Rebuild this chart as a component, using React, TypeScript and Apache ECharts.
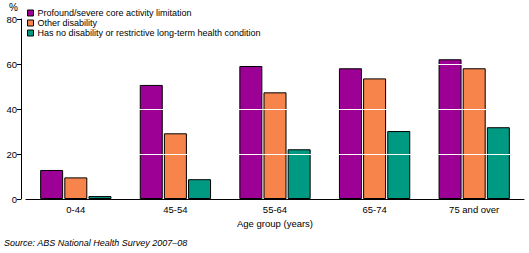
import React, { useEffect, useRef } from "react";
import * as echarts from "echarts";

const categories = ["0-44", "45-54", "55-64", "65-74", "75 and over"];
const seriesNames = [
  "Profound/severe core activity limitation",
  "Other disability",
  "Has no disability or restrictive long-term health condition",
];
const profound = [12.9, 50.7, 59.1, 58.1, 62.1];
const otherDisability = [9.6, 29.2, 47.4, 53.6, 58.1];
const noDisability = [1.3, 8.8, 22.1, 30.2, 31.9];
const colors = ["#9C0095", "#F7844A", "#009981"];
const whiteLines = [20, 40, 60];

const FONT = "Liberation Sans";

export default function App() {
  const ref = useRef<HTMLDivElement>(null);
  useEffect(() => {
    if (!ref.current) return;
    const chart = echarts.init(ref.current, undefined, { renderer: "svg" });
    const values = [profound, otherDisability, noDisability];
    const series: any[] = values.map((d, i) => ({
      name: seriesNames[i],
      type: "bar",
      data: d,
      barWidth: 23,
      barGap: "5%",
      itemStyle: { color: colors[i], borderColor: "#000", borderWidth: 1 },
    }));
    series.push({
      type: "line",
      data: [],
      z: 20,
      silent: true,
      markLine: {
        silent: true,
        symbol: "none",
        label: { show: false },
        lineStyle: { color: "#fff", width: 1, type: "solid" },
        data: whiteLines.map((v) => ({ yAxis: v })),
      },
    });
    chart.setOption({
      animation: false,
      textStyle: { fontFamily: FONT },
      grid: { left: 26, right: 5, top: 19, bottom: 54 },
      legend: {
        data: seriesNames,
        orient: "vertical",
        left: 27,
        top: 8,
        padding: 0,
        itemWidth: 6,
        itemHeight: 6,
        itemGap: 0,
        icon: "rect",
        itemStyle: { borderColor: "#000", borderWidth: 1 },
        textStyle: { fontFamily: FONT, fontSize: 9, lineHeight: 10, color: "#000", padding: [0, 0, 0, -1] },
      },
      graphic: [
        { type: "text", left: 9, top: 2, style: { text: "%", font: `10px ${FONT}`, fill: "#000" } },
        {
          type: "text",
          left: 4,
          top: 238,
          style: { text: "Source: ABS National Health Survey 2007–08", font: `italic 9px ${FONT}`, fill: "#000" },
        },
      ],
      xAxis: {
        type: "category",
        data: categories,
        name: "Age group (years)",
        nameLocation: "middle",
        nameGap: 18,
        nameTextStyle: { fontFamily: FONT, fontSize: 9.5, color: "#000" },
        axisLine: { lineStyle: { color: "#000", width: 1 } },
        axisTick: { alignWithLabel: true, length: 4, lineStyle: { color: "#000" } },
        axisLabel: { fontFamily: FONT, fontSize: 9.5, color: "#000", margin: 5 },
      },
      yAxis: {
        type: "value",
        min: 0,
        max: 80,
        interval: 20,
        offset: 5,
        splitLine: { show: false },
        axisLine: { show: true, lineStyle: { color: "#000", width: 1 } },
        axisTick: { show: true, length: 4, lineStyle: { color: "#000" } },
        axisLabel: { fontFamily: FONT, fontSize: 9.5, color: "#000", margin: 4 },
      },
      series,
    });
    return () => chart.dispose();
  }, []);
  return <div ref={ref} style={{ width: 529, height: 253, position: "absolute", left: 0, top: 0 }} />;
}
